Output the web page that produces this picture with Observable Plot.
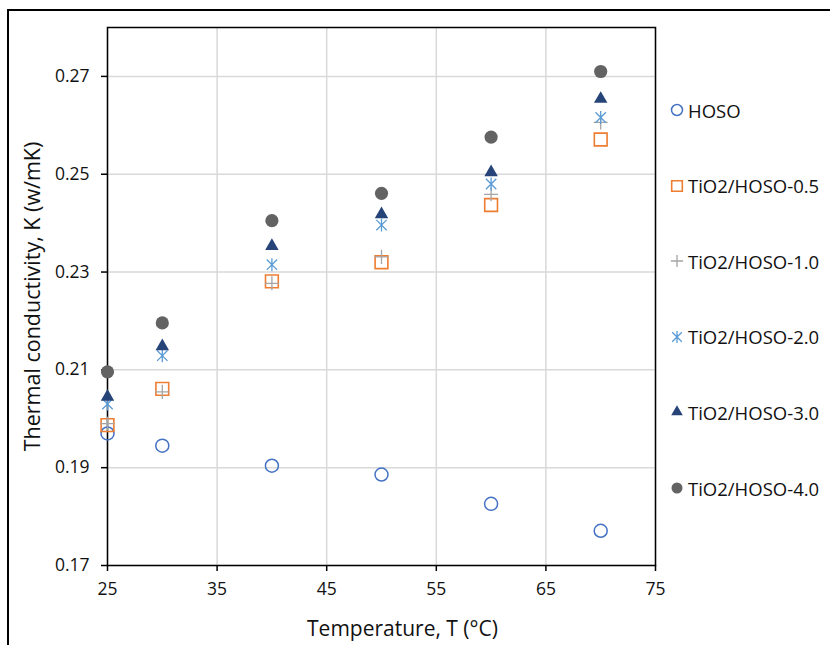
<!DOCTYPE html>
<html><head><meta charset="utf-8">
<script src="https://cdn.jsdelivr.net/npm/d3@7"></script>
<script src="https://cdn.jsdelivr.net/npm/@observablehq/plot@0.6"></script>
<style>
html,body{margin:0;padding:0;background:#fff;}
#wrap{position:relative;width:830px;height:645px;overflow:hidden;font-family:"Open Sans",sans-serif;}
#chart{position:absolute;left:0;top:0;}
#border{position:absolute;left:7px;top:9px;width:900px;height:700px;border-top:2px solid #000;border-left:2px solid #000;pointer-events:none;}
#legend{position:absolute;left:669px;top:0;width:161px;height:645px;}
.item{position:absolute;left:0;height:26px;display:flex;align-items:center;white-space:nowrap;font-size:18.5px;color:#111;}
.item svg{margin-right:3px;overflow:visible;}
</style></head><body>
<div id="wrap"><div id="chart"></div><div id="legend"></div><div id="border"></div></div>
<script>
// ---- data ----
const temperatures = [25, 30, 40, 50, 60, 70];
const seriesNames = ["HOSO", "TiO2/HOSO-0.5", "TiO2/HOSO-1.0", "TiO2/HOSO-2.0", "TiO2/HOSO-3.0", "TiO2/HOSO-4.0"];
const hoso    = [0.1970, 0.1945, 0.1904, 0.1886, 0.1826, 0.1771];
const tio2_05 = [0.1987, 0.2061, 0.2281, 0.2320, 0.2437, 0.2571];
const tio2_10 = [0.1990, 0.2055, 0.2277, 0.2331, 0.2459, 0.2606];
const tio2_20 = [0.2030, 0.2129, 0.2315, 0.2396, 0.2480, 0.2616];
const tio2_30 = [0.2045, 0.2148, 0.2353, 0.2418, 0.2504, 0.2654];
const tio2_40 = [0.2096, 0.2196, 0.2405, 0.2461, 0.2576, 0.2710];
const xTicks = [25, 35, 45, 55, 65, 75];
const yTicks = [0.17, 0.19, 0.21, 0.23, 0.25, 0.27];
const xLabel = "Temperature, T (°C)";
const yLabel = "Thermal conductivity, K (w/mK)";

// Excel-like star marker (X with vertical bar)
const starSymbol = {
  draw(ctx, size) {
    const r = Math.sqrt(size / Math.PI);
    const d = r * 0.8;
    ctx.moveTo(0, -r); ctx.lineTo(0, r);
    ctx.moveTo(-d, -d); ctx.lineTo(d, d);
    ctx.moveTo(-d, d); ctx.lineTo(d, -d);
  }
};

const seriesValues = [hoso, tio2_05, tio2_10, tio2_20, tio2_30, tio2_40];
const styles = [
  {symbol: "circle", d3sym: d3.symbolCircle, fill: "none", stroke: "#4472C4", r: 6.5, sw: 1.5, lr: 5.5},
  {symbol: "square", d3sym: d3.symbolSquare, fill: "none", stroke: "#ED7D31", r: 7.2, sw: 1.6, lr: 6},
  {symbol: "plus", d3sym: d3.symbolPlus, fill: "none", stroke: "#A5A5A5", r: 4.6, sw: 1.3, lr: 4},
  {symbol: starSymbol, d3sym: starSymbol, fill: "none", stroke: "#5B9BD5", r: 6.5, sw: 1.3, lr: 6},
  {symbol: "triangle", d3sym: d3.symbolTriangle, fill: "#264478", stroke: "none", r: 5.0, sw: 0, lr: 4.3},
  {symbol: "circle", d3sym: d3.symbolCircle, fill: "#636363", stroke: "none", r: 6.6, sw: 0, lr: 5.5}
];

const rows = seriesNames.flatMap((name, s) =>
  temperatures.map((t, i) => ({series: name, t, k: seriesValues[s][i]})));

const dots = seriesNames.map((name, s) => {
  const st = styles[s];
  return Plot.dot(rows.filter(d => d.series === name), {
    x: "t", y: "k", symbol: () => st.symbol, r: st.r,
    fill: st.fill, stroke: st.stroke, strokeWidth: st.sw
  });
});

const chart = Plot.plot({
  width: 830, height: 645,
  marginLeft: 107, marginRight: 175, marginTop: 27, marginBottom: 80,
  style: {fontFamily: "'Open Sans', sans-serif", fontSize: "17px", color: "#111", background: "transparent"},
  x: {domain: [25, 75]},
  y: {domain: [0.17, 0.28]},
  symbol: {type: "identity"},
  marks: [
    Plot.gridX(xTicks, {stroke: "#d9d9d9", strokeOpacity: 1, strokeWidth: 1.5}),
    Plot.gridY(yTicks, {stroke: "#d9d9d9", strokeOpacity: 1, strokeWidth: 1.5}),
    Plot.frame({stroke: "#000", strokeWidth: 1.5}),
    Plot.axisX(xTicks, {tickSize: 6, tickPadding: 11, label: null, fontSize: 17.5, stroke: "#000", strokeWidth: 1.5, fill: "#111"}),
    Plot.axisY(yTicks, {tickSize: 6, tickPadding: 12, tickFormat: ".2f", label: null, fontSize: 17.5, stroke: "#000", strokeWidth: 1.5, fill: "#111"}),
    ...dots,
    Plot.text([xLabel], {frameAnchor: "bottom", textAnchor: "middle", dx: 21, dy: 70, fontSize: 21, fill: "#111"}),
    Plot.text([yLabel], {frameAnchor: "left", textAnchor: "middle", rotate: -90, dx: -74, fontSize: 21.5, fill: "#111"})
  ]
});
document.getElementById("chart").appendChild(chart);

// ---- legend ----
const legend = d3.select("#legend");
seriesNames.forEach((name, s) => {
  const st = styles[s];
  const item = legend.append("div").attr("class", "item").style("top", (97 + s * 75.6) + "px");
  const svg = item.append("svg").attr("width", 16).attr("height", 16);
  svg.append("path")
    .attr("transform", "translate(8,8)")
    .attr("d", d3.symbol(st.d3sym, Math.PI * st.lr * st.lr)())
    .attr("fill", st.fill).attr("stroke", st.stroke).attr("stroke-width", st.sw);
  item.append("span").text(name);
});
</script>
</body></html>
